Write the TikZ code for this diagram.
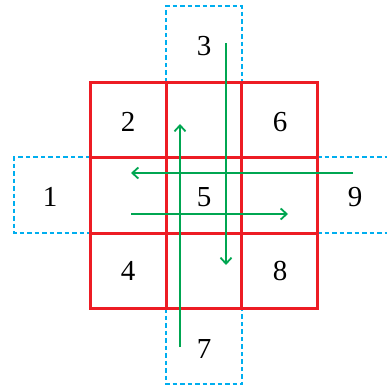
\documentclass[tikz,border=0pt]{standalone}
\usepackage{fontspec}
\setmainfont{Liberation Serif}
\usetikzlibrary{arrows.meta}
\definecolor{gridred}{RGB}{237,28,36}
\definecolor{dashblue}{RGB}{0,174,239}
\definecolor{arrgreen}{RGB}{0,166,81}
\tikzset{
  redline/.style={draw=gridred, line width=3pt},
  blueline/.style={draw=dashblue, line width=2.8pt, dash pattern=on 4.5pt off 3pt},
  greenarrow/.style={draw=arrgreen, line width=1.8pt, -{Straight Barb[length=6pt,width=11pt,line width=1.8pt]}},
  numlabel/.style={font=\fontsize{29}{31}\selectfont, inner sep=0pt}
}
\begin{document}
\begin{tikzpicture}[x=1pt,y=-1pt]
\useasboundingbox (0,0) rectangle (386,388);
% dashed boxes
\draw[blueline] (166,82) -- (166,6) -- (242,6) -- (242,82);
\draw[blueline] (90,157) -- (14,157) -- (14,233) -- (90,233);
\draw[blueline] (317,157) -- (388,157);
\draw[blueline] (317,233) -- (388,233);
\draw[blueline] (166,308) -- (166,384) -- (242,384) -- (242,308);
% red grid
\draw[redline] (90,82) rectangle (317,308);
\draw[redline] (166,82) -- (166,308);
\draw[redline] (241,82) -- (241,308);
\draw[redline] (90,157) -- (317,157);
\draw[redline] (90,233) -- (317,233);
% labels
\node[numlabel] (n3) at (204,46) {3};
\node[numlabel] (n2) at (128,122) {2};
\node[numlabel] (n6) at (280,122) {6};
\node[numlabel] (n1) at (50,197) {1};
\node[numlabel] (n5) at (204,197) {5};
\node[numlabel] (n9) at (355,197) {9};
\node[numlabel] (n4) at (128,271) {4};
\node[numlabel] (n8) at (280,271) {8};
\node[numlabel] (n7) at (204,349) {7};
% arrow end points
\coordinate (dA) at (226,43);
\coordinate (dB) at (226,265);
\coordinate (uA) at (180,347);
\coordinate (uB) at (180,124);
\coordinate (lA) at (353,173);
\coordinate (lB) at (131,173);
\coordinate (rA) at (131,214);
\coordinate (rB) at (288,214);
\draw[greenarrow] (dA) -- (dB);
\draw[greenarrow] (uA) -- (uB);
\draw[greenarrow] (lA) -- (lB);
\draw[greenarrow] (rA) -- (rB);
\end{tikzpicture}
\end{document}
